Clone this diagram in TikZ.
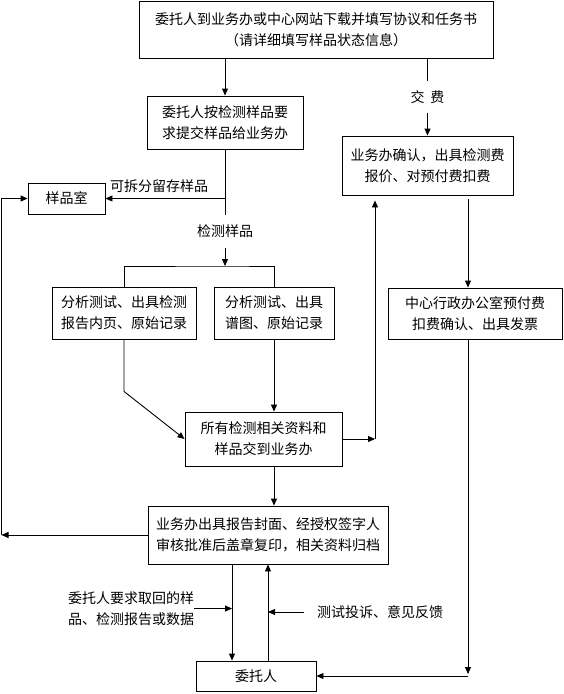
\documentclass[tikz,border=0pt]{standalone}
\usepackage{fontspec}
\setmainfont{Noto Sans CJK SC}
\usetikzlibrary{arrows.meta,positioning}

\begin{document}
\begin{tikzpicture}[
  x=1pt,y=-1pt,
  font=\fontsize{14pt}{21pt}\selectfont,
  line width=0.9pt,
  box/.style={rectangle,draw,fill=white,align=center,inner sep=0pt},
  note/.style={align=left,inner sep=0pt},
  arr/.style={-{Triangle[length=7pt,width=6pt]}},
]
\useasboundingbox (0,0) rectangle (564,694);

% Boxes
\node[box,minimum width=354pt,minimum height=57pt] (apply) at (316,29.5) {委托人到业务办或中心网站下载并填写协议和任务书\\（请详细填写样品状态信息）};
\node[box,minimum width=156pt,minimum height=53pt] (submit) at (225,122.5) {委托人按检测样品要\\求提交样品给业务办};
\node[box,minimum width=171pt,minimum height=59pt] (confirm) at (427.5,165.5) {业务办确认，出具检测费\\报价、对预付费扣费};
\node[box,minimum width=77pt,minimum height=31pt] (store) at (66.5,198.5) {样品室};
\node[box,minimum width=144pt,minimum height=52pt] (testa) at (124,313) {分析测试、出具检测\\报告内页、原始记录};
\node[box,minimum width=120pt,minimum height=52pt] (testb) at (274,313) {分析测试、出具\\谱图、原始记录};
\node[box,minimum width=174pt,minimum height=51pt] (invoice) at (475,313.5) {中心行政办公室预付费\\扣费确认、出具发票};
\node[box,minimum width=157pt,minimum height=54pt] (collect) at (263.5,439) {所有检测相关资料和\\样品交到业务办};
\node[box,minimum width=240pt,minimum height=58pt] (report) at (268,535) {业务办出具报告封面、经授权签字人\\审核批准后盖章复印，相关资料归档};
\node[box,minimum width=120pt,minimum height=30pt] (client) at (256,676) {委托人};

% Side notes
\node[note] (takeback) at (131,608.5) {委托人要求取回的样\\品、检测报告或数据};
\node[note] (complain) at (380,612) {测试投诉、意见反馈};

% Sample flow
\coordinate (split) at (225,266);
\draw[arr] (apply.south -| submit.north) -- (submit.north);
\draw[arr] (submit.south) -- node[pos=0.7,fill=white,inner xsep=2pt,inner ysep=10pt] {检测样品} (split);
\draw[arr] (submit.south |- store.east) -- node[pos=0.55,above=2pt] {可拆分留存样品} (store.east);
\draw (testa.north) |- (split) -| (testb.north);
\draw[arr] (testa.south) -- ++(0,52) -- (collect.west);
\draw[arr] (testb.south) -- (testb.south |- collect.north);
\draw[arr] (testb.south |- collect.south) -- (testb.south |- report.north);

% Fee flow
\draw[arr] (apply.south -| confirm.north) -- node[fill=white,inner xsep=2pt,inner ysep=9pt] {交\hspace{6pt}费} (confirm.north);
\coordinate (feeup) at (375,439);
\draw[arr] (collect.east) -- (feeup);
\draw[arr,shorten >=5pt] (feeup) -- (feeup |- confirm.south);
\coordinate (payx) at ([xshift=-7pt]invoice.north);
\draw[arr,shorten <=4pt] (payx |- confirm.south) -- (payx);
\coordinate (billcorner) at (payx |- client.east);
\draw[arr,shorten >=2pt] (payx |- invoice.south) -- (billcorner);
\draw[arr] (billcorner) -- (client.east);

% Archive back to sample room
\coordinate (back) at (1.5,0);
\draw[arr] (report.west) -- (back |- report.west);
\draw[arr] (back |- report.west) |- (store.west);

% Report and feedback
\coordinate (down) at ([xshift=-36pt]report.south);
\draw[arr] (down) -- (down |- client.north);
\draw[arr] (client.north -| report.south) -- (report.south);
\draw[arr] (takeback.east) -- (takeback.east -| down);
\draw[arr,shorten <=13pt] (complain.west) -- (complain.west -| report.south);

\end{tikzpicture}
\end{document}
